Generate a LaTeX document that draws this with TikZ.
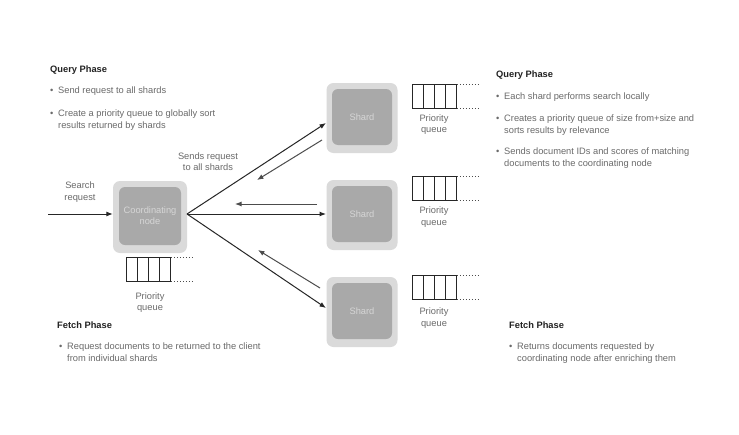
\documentclass[tikz,border=0pt]{standalone}
\usepackage{fontspec}
\setmainfont{Liberation Sans}
\usetikzlibrary{arrows.meta}
\definecolor{txt}{HTML}{6A6A6A}
\definecolor{ttl}{HTML}{222222}
\definecolor{outerbox}{HTML}{DADADA}
\definecolor{innerbox}{HTML}{A9A9A9}
\definecolor{boxtxt}{HTML}{D6D6D6}
\tikzset{
  title/.style={anchor=west, font=\bfseries\fontsize{9.3}{10}\selectfont, text=ttl, inner sep=0pt},
  bul/.style={anchor=north west, font=\fontsize{9.3}{11.4}\selectfont, text=txt, inner sep=0pt, align=left},
  lbl/.style={font=\fontsize{9.3}{11.6}\selectfont, text=txt, align=center, inner sep=0pt},
  outerb/.style={draw=none, fill=outerbox, rounded corners=7pt, minimum width=74pt, minimum height=72pt},
  innerb/.style={fill=innerbox, rounded corners=6pt, minimum width=62pt, minimum height=58pt, font=\fontsize{9.3}{11.2}\selectfont, text=boxtxt, align=center, inner sep=0pt},
  cell/.style={draw=black!85, line width=0.9pt},
  dots/.style={draw=black!70, line width=0.8pt, dash pattern=on 1.5pt off 1.5pt},
  arr/.style={draw=black!85, line width=1pt, -{Latex[length=6.5pt,width=5pt]}},
  rarr/.style={draw=black!70, line width=1pt, -{Latex[length=6.5pt,width=5pt]}}
}
\newcommand{\bl}{\makebox[8pt][l]{•}}
\newcommand{\ind}{\hspace*{8pt}}
\newcommand{\pqueue}[3]{% x, y top, name
  \foreach \i in {0,1,2,3} {\draw[cell] (#1+\i*11.2,#2) rectangle (#1+\i*11.2+11.2,#2+24);}
  \draw[dots] (#1+44.8,#2) -- (#1+66,#2);
  \draw[dots] (#1+44.8,#2+24) -- (#1+66,#2+24);
  \coordinate (#3) at (#1+22.4,#2+24);
}
\begin{document}
\begin{tikzpicture}[x=1pt,y=-1pt]
\useasboundingbox[fill=white] (0,0) rectangle (739,434);

% left query phase
\node[title] (lq) at (50,70) {Query Phase};
\node[bul] (lq1) at (50,87) {\bl Send request to all shards};
\node[bul] (lq2) at (50,110) {\bl Create a priority queue to globally sort\\\ind results returned by shards};

% right query phase
\node[title] (rq) at (496,75) {Query Phase};
\node[bul] (rq1) at (496,93) {\bl Each shard performs search locally};
\node[bul] (rq2) at (496,115) {\bl Creates a priority queue of size from+size and\\\ind sorts results by relevance};
\node[bul] (rq3) at (496,148) {\bl Sends document IDs and scores of matching\\\ind documents to the coordinating node};

% fetch phases
\node[title] (lf) at (57,325) {Fetch Phase};
\node[bul] (lf1) at (59,343) {\bl Request documents to be returned to the client\\\ind from individual shards};
\node[title] (rf) at (509,325) {Fetch Phase};
\node[bul] (rf1) at (509,343) {\bl Returns documents requested by\\\ind coordinating node after enriching them};

% coordinating node
\node[outerb] (co) at (150,217) {};
\node[innerb] (ci) at (150,216) {Coordinating\\node};
% shards
\node[outerb, minimum width=71pt, minimum height=70pt] (s1o) at (362,118) {};
\node[innerb, minimum width=60pt, minimum height=56pt] (s1) at (362,117) {Shard};
\node[outerb, minimum width=71pt, minimum height=70pt] (s2o) at (362,215) {};
\node[innerb, minimum width=60pt, minimum height=56pt] (s2) at (362,214) {Shard};
\node[outerb, minimum width=71pt, minimum height=70pt] (s3o) at (362,312) {};
\node[innerb, minimum width=60pt, minimum height=56pt] (s3) at (362,311) {Shard};

% search request
\coordinate (sr) at (48,214);
\node[lbl] (srl) at (80,192) {Search\\request};
\draw[arr] (sr) -- (co.west |- sr);

% sends request label
\node[lbl] (sendl) at (208,161.5) {Sends request\\to all shards};

% arrows
\coordinate (o) at (187,214);
\coordinate (t1) at (326,123);
\coordinate (t2) at (326,214);
\coordinate (t3) at (326,308);
\draw[arr] (o) -- (t1);
\draw[arr] (o) -- (t2);
\draw[arr] (o) -- (t3);
\coordinate (r1a) at (322,140); \coordinate (r1b) at (257,180);
\coordinate (r2a) at (317,204); \coordinate (r2b) at (235,204);
\coordinate (r3a) at (320,288); \coordinate (r3b) at (258,250);
\draw[rarr] (r1a) -- (r1b);
\draw[rarr] (r2a) -- (r2b);
\draw[rarr] (r3a) -- (r3b);

% priority queues
\pqueue{126}{257}{qc}
\node[lbl] (qcl) at (150,302.5) {Priority\\queue};
\pqueue{412}{84}{q1}
\node[lbl] (q1l) at (434,124.5) {Priority\\queue};
\pqueue{412}{176}{q2}
\node[lbl] (q2l) at (434,217) {Priority\\queue};
\pqueue{412}{275}{q3}
\node[lbl] (q3l) at (434,318) {Priority\\queue};
\end{tikzpicture}
\end{document}
